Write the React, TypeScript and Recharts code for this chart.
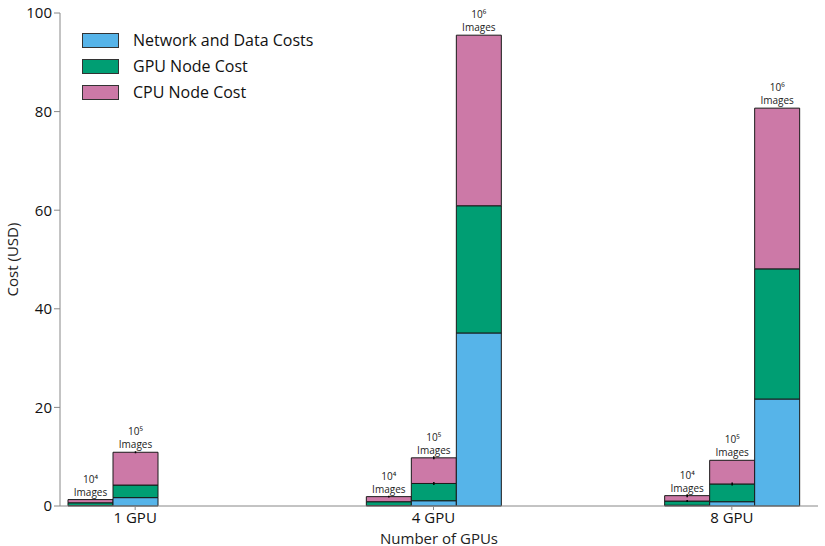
import React from 'react';
import { BarChart, Bar, XAxis, YAxis, LabelList, ErrorBar } from 'recharts';

// GPU configurations on the x axis
const categories = ['1 GPU', '4 GPU', '8 GPU'];

// 10^4 images
const net4 = [0.1, 0.1, 0.15];
const gpu4 = [0.55, 0.77, 0.85];
const cpu4 = [0.65, 1.03, 1.1];

// 10^5 images
const net5 = [1.7, 1.07, 0.87];
const gpu5 = [2.55, 3.5, 3.6];
const cpu5 = [6.65, 5.2, 4.8];

// 10^6 images (not run on 1 GPU)
const net6 = [null, 35.1, 21.7];
const gpu6 = [null, 25.8, 26.4];
const cpu6 = [null, 34.6, 32.6];

// small run-to-run spread drawn as error ticks
const gpuErr4 = [0, 0, 0.2];
const cpuErr4 = [0, 0.2, 0.3];
const gpuErr5 = [0, 0.3, 0.3];
const cpuErr5 = [0.2, 0.3, 0];

const yTicks = [0, 20, 40, 60, 80, 100];

const COLORS = { net: '#56B4E9', gpu: '#009E73', cpu: '#CC79A7' };
const FONT = '"Open Sans", sans-serif';

const data = categories.map((name, i) => ({
  name,
  net4: net4[i], gpu4: gpu4[i], cpu4: cpu4[i],
  net5: net5[i], gpu5: gpu5[i], cpu5: cpu5[i],
  net6: net6[i], gpu6: gpu6[i], cpu6: cpu6[i],
  gpuErr4: gpuErr4[i], cpuErr4: cpuErr4[i],
  gpuErr5: gpuErr5[i], cpuErr5: cpuErr5[i],
}));

const sup: Record<string, string> = { '4': '⁴', '5': '⁵', '6': '⁶' };

const imagesLabel = (exp: string) => (props: any) => {
  const { x, y, width, value } = props;
  if (value == null) return null;
  const cx = Number(x) + Number(width) / 2;
  return (
    <g fontFamily={FONT} fill="#222" textAnchor="middle">
      <text x={cx} y={Number(y) - 17} fontSize={10}>{'10' + sup[exp]}</text>
      <text x={cx} y={Number(y) - 4} fontSize={10}>Images</text>
    </g>
  );
};

const legendItems = [
  { label: 'Network and Data Costs', color: COLORS.net },
  { label: 'GPU Node Cost', color: COLORS.gpu },
  { label: 'CPU Node Cost', color: COLORS.cpu },
];

const App: React.FC = () => {
  const stroke = '#1a1a1a';
  const bars = ['4', '5', '6'].flatMap((e) => [
    <Bar key={'net' + e} dataKey={'net' + e} stackId={'s' + e} fill={COLORS.net} stroke={stroke} strokeWidth={1} isAnimationActive={false} />,
    <Bar key={'gpu' + e} dataKey={'gpu' + e} stackId={'s' + e} fill={COLORS.gpu} stroke={stroke} strokeWidth={1} isAnimationActive={false}>
      {e !== '6' && <ErrorBar dataKey={'gpuErr' + e} width={0} stroke="#000" strokeWidth={1.5} direction="y" />}
    </Bar>,
    <Bar key={'cpu' + e} dataKey={'cpu' + e} stackId={'s' + e} fill={COLORS.cpu} stroke={stroke} strokeWidth={1} isAnimationActive={false}>
      {e !== '6' && <ErrorBar dataKey={'cpuErr' + e} width={0} stroke="#000" strokeWidth={1.5} direction="y" />}
      <LabelList dataKey={'cpu' + e} content={imagesLabel(e)} />
    </Bar>,
  ]);

  return (
    <div style={{ position: 'absolute', left: 0, top: 0, width: 825, height: 546, background: '#fff' }}>
      <BarChart
        width={825}
        height={546}
        data={data}
        margin={{ top: 13, right: 7, bottom: 0, left: 0 }}
        barSize={45}
        barGap={0}
      >
        <XAxis
          dataKey="name"
          padding={{ left: -74, right: -63 }}
          height={40}
          stroke="#888"
          tickSize={4}
          tick={{ fill: '#111', fontSize: 15, fontFamily: FONT }}
          label={{ value: 'Number of GPUs', position: 'insideBottom', offset: 2, fill: '#222', fontSize: 15, fontFamily: FONT }}
        />
        <YAxis
          domain={[0, 100]}
          ticks={yTicks}
          width={60}
          stroke="#888"
          tickSize={6}
          tick={{ fill: '#111', fontSize: 15, fontFamily: FONT }}
          label={{ value: 'Cost (USD)', angle: -90, position: 'insideLeft', offset: 13, fill: '#222', fontSize: 15, fontFamily: FONT, style: { textAnchor: 'middle' } }}
        />
        {bars}
      </BarChart>
      <div style={{ position: 'absolute', left: 82, top: 27, fontFamily: FONT }}>
        {legendItems.map((it) => (
          <div key={it.label} style={{ display: 'flex', alignItems: 'center', height: 26 }}>
            <span style={{ display: 'inline-block', width: 35, height: 13, background: it.color, border: '1px solid #333', marginRight: 14 }} />
            <span style={{ fontSize: 16, color: '#111' }}>{it.label}</span>
          </div>
        ))}
      </div>
    </div>
  );
};

export default App;
